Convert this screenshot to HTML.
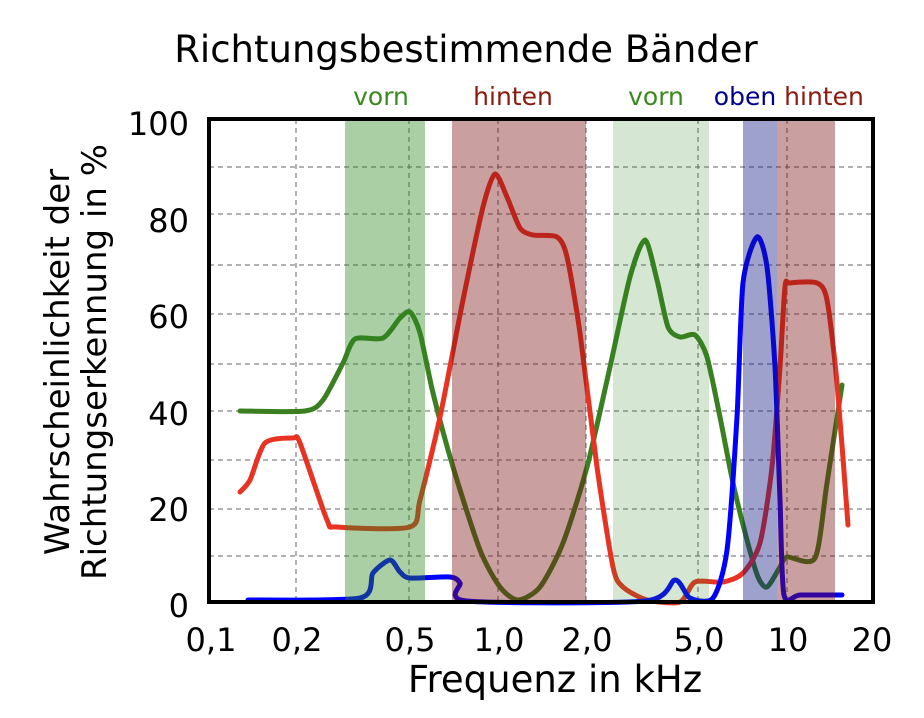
<!DOCTYPE html>
<html><head><meta charset="utf-8"><style>body{margin:0;background:#fff}svg{display:block}</style></head><body>
<svg width="924" height="718" viewBox="0 0 924 718" xmlns="http://www.w3.org/2000/svg" font-family="'DejaVu Sans','Liberation Sans',sans-serif">
<rect width="924" height="718" fill="#fff"/>
<text x="466" y="62" font-size="37" text-anchor="middle" fill="#000">Richtungsbestimmende Bänder</text>
<g font-size="25" text-anchor="middle">
<text x="381" y="105" fill="#3a8a20">vorn</text>
<text x="513" y="105" fill="#8b1a10">hinten</text>
<text x="656" y="105" fill="#3a8a20">vorn</text>
<text x="745" y="105" fill="#00008b">oben</text>
<text x="824" y="105" fill="#8b1a10">hinten</text>
</g>
<g stroke="#666" stroke-width="1" stroke-dasharray="5,4" fill="none">
<path d="M209 167H873M209 214H873M209 265H873M209 314H873M209 364H873M209 411H873M209 460H873M209 509H873M209 556H873"/>
<path d="M296 119V602M409 119V602M498 119V602M586 119V602M698 119V602M787 119V602"/>
</g>
<g fill="none" stroke-width="5" stroke-linejoin="round" stroke-linecap="round">
<path class="s" stroke="#3a8020" data-p="240,411 305,411 323,400 343,363 355,339 383,338 400,318 410,312 420,333 433,393 453,467 480,550 500,587 518,600 540,587 563,543 587,467 610,367 630,277 645,240 657,280 668,327 680,337 695,335 707,357 720,417 733,483 747,540 758,577 767,587 780,567 787,557 815,558 827,483 842,385"/>
<path class="s" stroke="#e83323" data-p="240,492 250,480 265,443 293,438 300,443 327,520 337,527 410,527 420,500 440,417 463,300 483,207 495,174 507,197 520,228 533,235 557,237 567,257 580,333 597,467 613,567 623,587 647,600 680,602 695,582 723,582 743,573 760,543 772,467 780,367 785,287 790,283 817,283 827,300 837,383 848,525"/>
<path class="s" stroke="#0000ff" data-p="248,600 360,598 373,573 390,560 400,572 410,578 450,577 460,583 467,601 645,601 675,580 690,598 713,598 727,550 737,417 743,283 757,237 767,267 775,367 780,500 784,595 800,595 842,595"/>
</g>
<rect x="345" y="119" width="80" height="483" fill="#2a871b" opacity="0.4"/>
<rect x="452" y="119" width="134" height="483" fill="#781010" opacity="0.4"/>
<rect x="613" y="119" width="96" height="483" fill="#2d8223" opacity="0.2"/>
<rect x="743" y="119" width="34" height="483" fill="#0f1482" opacity="0.4"/>
<rect x="777" y="119" width="58" height="483" fill="#781010" opacity="0.4"/>
<rect x="209" y="119" width="664" height="483" fill="none" stroke="#000" stroke-width="4"/>
<g font-size="32" text-anchor="end" fill="#000">
<text x="189" y="135">100</text><text x="189" y="232">80</text><text x="189" y="328">60</text><text x="189" y="425">40</text><text x="189" y="521">20</text><text x="189" y="617">0</text>
</g>
<g font-size="32" text-anchor="middle" fill="#000">
<text x="211" y="651">0,1</text><text x="297" y="651">0,2</text><text x="410" y="651">0,5</text><text x="499" y="651">1,0</text><text x="587" y="651">2,0</text><text x="699" y="651">5,0</text><text x="788" y="651">10</text><text x="872" y="651">20</text>
</g>
<text x="555" y="692" font-size="37" text-anchor="middle">Frequenz in kHz</text>
<g font-size="34" text-anchor="middle" transform="translate(0,362) rotate(-90)">
<text x="0" y="69">Wahrscheinlichkeit der</text>
<text x="0" y="106">Richtungserkennung in %</text>
</g>
</svg>
<script>
document.querySelectorAll('path.s').forEach(function(el){
var p=el.getAttribute('data-p').split(' ').map(function(s){return s.split(',').map(Number)});
var d='M'+p[0][0]+' '+p[0][1];
for(var i=0;i<p.length-1;i++){
var p0=p[i-1]||p[i],p1=p[i],p2=p[i+1],p3=p[i+2]||p2;
var c1x=p1[0]+(p2[0]-p0[0])/8,c1y=p1[1]+(p2[1]-p0[1])/8;
var c2x=p2[0]-(p3[0]-p1[0])/8,c2y=p2[1]-(p3[1]-p1[1])/8;
d+=' C'+c1x+' '+c1y+' '+c2x+' '+c2y+' '+p2[0]+' '+p2[1];
}
el.setAttribute('d',d);
});
</script>
</body></html>
